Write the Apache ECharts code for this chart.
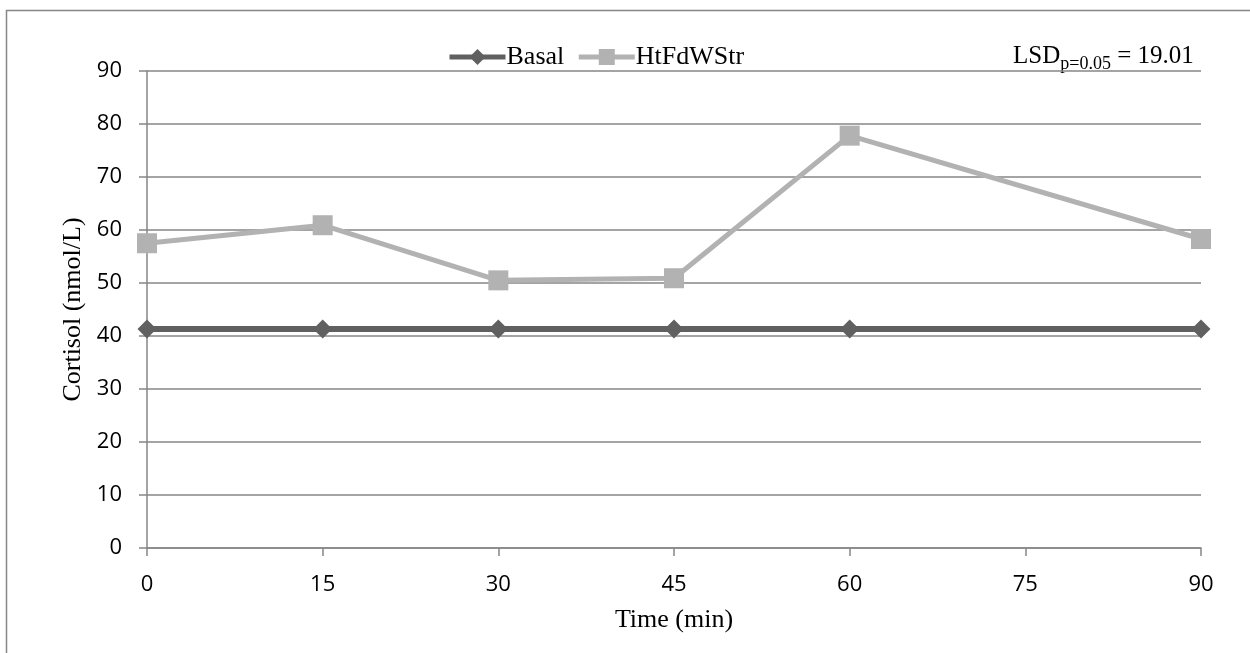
<!DOCTYPE html>
<html>
<head>
<meta charset="utf-8">
<script src="https://cdn.jsdelivr.net/npm/echarts@6/dist/echarts.min.js"></script>
<style>
  html, body { margin: 0; padding: 0; background: #fff; }
  #chart { width: 1250px; height: 653px; }
</style>
</head>
<body>
<div id="chart"></div>
<script>
// time points (min) and cortisol values (nmol/L)
const times = [0, 15, 30, 45, 60, 90];
const basal = [41.3, 41.3, 41.3, 41.3, 41.3, 41.3];
const htFdWStr = [57.5, 60.9, 50.5, 50.9, 77.8, 58.3];
const seriesNames = ["Basal", "HtFdWStr"];

const chart = echarts.init(document.getElementById("chart"));

function pairs(vals) {
  return times.map((t, i) => [t, vals[i]]);
}

const tickFont = { fontFamily: "Open Sans", fontSize: 22, color: "#000" };
const serif = "Liberation Serif";

const option = {
  animation: false,
  backgroundColor: "#fff",
  grid: { left: 147, right: 49, top: 71, bottom: 105, containLabel: false },
  legend: {
    top: 39,
    left: 442,
    itemWidth: 56,
    itemHeight: 20,
    itemGap: 12,
    lineStyle: { width: 5 },
    textStyle: { fontFamily: serif, fontSize: 26, color: "#000", padding: [0, 0, 0, -4] },
    data: seriesNames
  },
  xAxis: {
    type: "value",
    min: 0,
    max: 90,
    interval: 15,
    name: "Time (min)",
    nameLocation: "middle",
    nameGap: 59,
    nameTextStyle: { fontFamily: serif, fontSize: 26, color: "#000" },
    axisLine: { show: true, lineStyle: { color: "#868686", width: 1.5 } },
    axisTick: { show: true, length: 8, lineStyle: { color: "#868686", width: 1.5 } },
    axisLabel: Object.assign({ margin: 26 }, tickFont),
    splitLine: { show: false }
  },
  yAxis: {
    type: "value",
    min: 0,
    max: 90,
    interval: 10,
    name: "Cortisol (nmol/L)",
    nameLocation: "middle",
    nameGap: 61,
    nameTextStyle: { fontFamily: serif, fontSize: 26, color: "#000" },
    axisLine: { show: true, lineStyle: { color: "#868686", width: 1.5 } },
    axisTick: { show: true, length: 8, lineStyle: { color: "#868686", width: 1.5 } },
    axisLabel: Object.assign({ margin: 25 }, tickFont),
    splitLine: { show: true, lineStyle: { color: "#868686", width: 1.5 } }
  },
  series: [
    {
      name: seriesNames[0],
      type: "line",
      data: pairs(basal),
      symbol: "diamond",
      symbolSize: 19,
      itemStyle: { color: "#606060" },
      lineStyle: { color: "#606060", width: 6 },
      z: 3
    },
    {
      name: seriesNames[1],
      type: "line",
      data: pairs(htFdWStr),
      symbol: "rect",
      symbolSize: 20,
      itemStyle: { color: "#b2b2b2" },
      lineStyle: { color: "#b2b2b2", width: 5 },
      z: 4
    }
  ],
  graphic: [
    {
      type: "rect",
      shape: { x: 6.5, y: 10.5, width: 1300, height: 700 },
      style: { fill: null, stroke: "#868686", lineWidth: 1.5 },
      silent: true
    },
    {
      type: "text",
      left: 1013,
      top: 44,
      style: {
        text: "{m|LSD}{s|p=0.05}{m| = 19.01}",
        rich: {
          m: { fontFamily: serif, fontSize: 25, fill: "#000" },
          s: { fontFamily: serif, fontSize: 18, fill: "#000", padding: [16, 0, 0, 0] }
        }
      }
    }
  ]
};

chart.setOption(option);
window.addEventListener("resize", () => chart.resize());
</script>
</body>
</html>
